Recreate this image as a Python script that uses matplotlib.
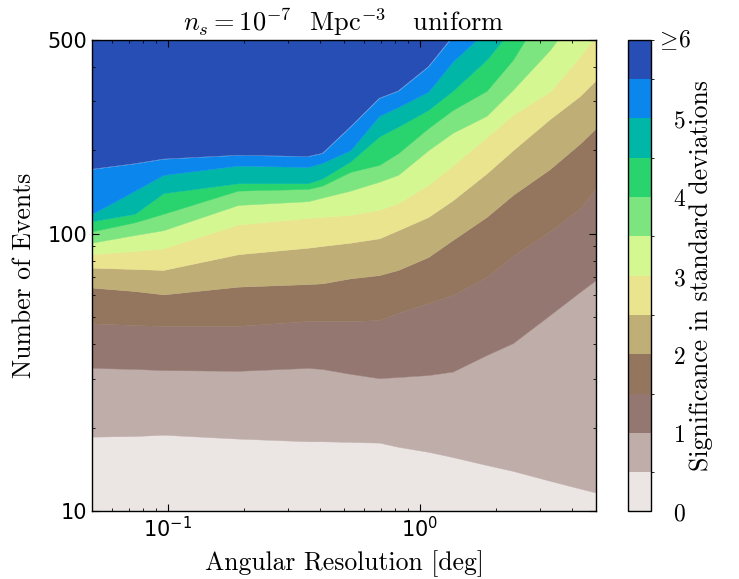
import numpy as np
import matplotlib
matplotlib.use("Agg")
from matplotlib import pyplot as plt
from matplotlib import colors as mcolors
from matplotlib import cm
from matplotlib import ticker

plt.rcParams['axes.unicode_minus'] = False


resolution = [0.05, 0.074, 0.096, 0.19, 0.36, 0.41, 0.53, 0.69, 0.82,
              1.08, 1.35, 1.84, 2.34, 3.28, 4.31, 5.0]

# number of events needed to reach a given significance (in sigma)
events_0p5 = [18.6, 18.7, 18.9, 18.3, 17.9, 17.9, 17.8, 17.7, 17.1, 16.4, 15.7, 14.7, 14.0, 12.9, 12.1, 11.7]
events_1p0 = [32.9, 32.6, 32.3, 32.1, 32.9, 32.6, 31.3, 30.2, 30.5, 31.0, 31.9, 36.6, 40.4, 51.0, 61.7, 68.2]
events_1p5 = [47.6, 46.9, 46.6, 46.6, 48.5, 48.5, 48.5, 48.9, 51.9, 56.3, 60.2, 69.9, 83.2, 102, 123, 146]
events_2p0 = [64.0, 62.2, 60.5, 64.5, 65.9, 66.3, 69.1, 71.0, 74.1, 82.5, 95.0, 115, 138, 171, 211, 240]
events_2p5 = [75.5, 74.7, 74.1, 84.4, 89.1, 90.4, 92.9, 96.3, 103, 115, 132, 165, 200, 259, 313, 358]
events_3p0 = [84.4, 86.7, 88.6, 108, 114, 115, 117, 122, 129, 150, 176, 223, 268, 325, 434, 516]
events_3p5 = [92.9, 99.0, 103, 127, 131, 135, 143, 154, 163, 200, 231, 266, 330, 459, 640, 755]
events_4p0 = [102, 110, 118, 143, 145, 149, 167, 177, 195, 240, 279, 327, 423, 695, 968, 1143]
events_4p5 = [111, 118, 140, 152, 152, 158, 182, 224, 243, 279, 327, 423, 553, 814, 1106, 1305]
events_5p0 = [118, 143, 163, 176, 174, 180, 200, 266, 286, 325, 417, 540, 657, 869, 1096, 1242]
events_5p5 = [171, 179, 186, 192, 190, 195, 243, 308, 327, 400, 514, 724, 936, 1349, 1818, 2128]

sig_levels = [0, 0.5, 1.0, 1.5, 2.0, 2.5, 3.0, 3.5, 4.0, 4.5, 5.0, 5.5, 6.0]
cbar_ticks = [0, 1, 2, 3, 4, 5]
cbar_labels = ["$0$", "$1$", "$2$", "$3$", "$4$", "$5$"]
top_label = r"$\geq\!6$"

n_min = 10
n_max = 500
x_min = 0.05
x_max = 5.0


def makePlot():
    boundaries = [events_0p5, events_1p0, events_1p5, events_2p0, events_2p5,
                  events_3p0, events_3p5, events_4p0, events_4p5, events_5p0,
                  events_5p5]
    x = np.array(resolution)
    lower = [np.full(len(x), 1.0)] + [np.array(b) for b in boundaries]
    upper = [np.array(b) for b in boundaries] + [np.full(len(x), 1e5)]

    # same colour choice as contourf: band midpoints through terrain_r
    levels = np.array(sig_levels)
    mids = 0.5 * (levels[:-1] + levels[1:])
    cmap = plt.get_cmap("terrain_r")
    band_colors = [cmap((m - levels[0]) / (levels[-1] - levels[0])) for m in mids]

    fig = plt.figure(figsize=(7.39, 5.79), dpi=100)
    ax = fig.add_axes([0.1245, 0.1166, 0.682, 0.8149])
    cax = fig.add_axes([0.8498, 0.1166, 0.0311, 0.8149])

    # ================ filled bands ================
    for lo, hi, col in zip(lower, upper, band_colors):
        ax.fill_between(x, lo, hi, facecolor=col, edgecolor=col, linewidth=0.3)

    ax.set_xscale("log")
    ax.set_yscale("log")
    ax.set_xlim(x_min, x_max)
    ax.set_ylim(n_min, n_max)

    ax.set_yticks([10, 100, 500])
    ax.yaxis.set_major_formatter(ticker.FixedFormatter(["10", "100", "500"]))
    ax.yaxis.set_minor_formatter(ticker.NullFormatter())
    ax.tick_params(which="both", direction="in", top=True, right=True, labelsize=15)
    ax.tick_params(which="major", length=5, width=0.8)
    ax.tick_params(which="minor", length=2.5, width=0.6)
    for sp in ax.spines.values():
        sp.set_linewidth(1.0)

    ax.set_xlabel("Angular Resolution [deg]", family="cmr10", fontsize=18.5, labelpad=6)
    ax.set_ylabel("Number of Events", family="cmr10", fontsize=18.5, labelpad=8)
    ax.set_title(r"$n_s=10^{-7}$  Mpc$^{-3}$   uniform", family="cmr10",
                 math_fontfamily="cm", fontsize=19, pad=6)

    # ================ colorbar ================
    bar_cmap = mcolors.ListedColormap(band_colors)
    bar_norm = mcolors.BoundaryNorm(sig_levels, bar_cmap.N)
    sm = cm.ScalarMappable(norm=bar_norm, cmap=bar_cmap)
    cbar = fig.colorbar(sm, cax=cax, ticks=cbar_ticks)
    cbar.outline.set_linewidth(1.0)
    cax.tick_params(length=0, pad=16)
    cax.set_yticklabels(cbar_labels, math_fontfamily="cm", fontsize=17)
    cax.text(1.17, 1.0, top_label, transform=cax.transAxes, ha="left", va="center",
             math_fontfamily="cm", fontsize=17)
    cbar.set_label("Significance in standard deviations", family="cmr10",
                   fontsize=18.5, labelpad=2)

    fig.savefig("out.png", dpi=100)


if __name__ == "__main__":
    makePlot()
